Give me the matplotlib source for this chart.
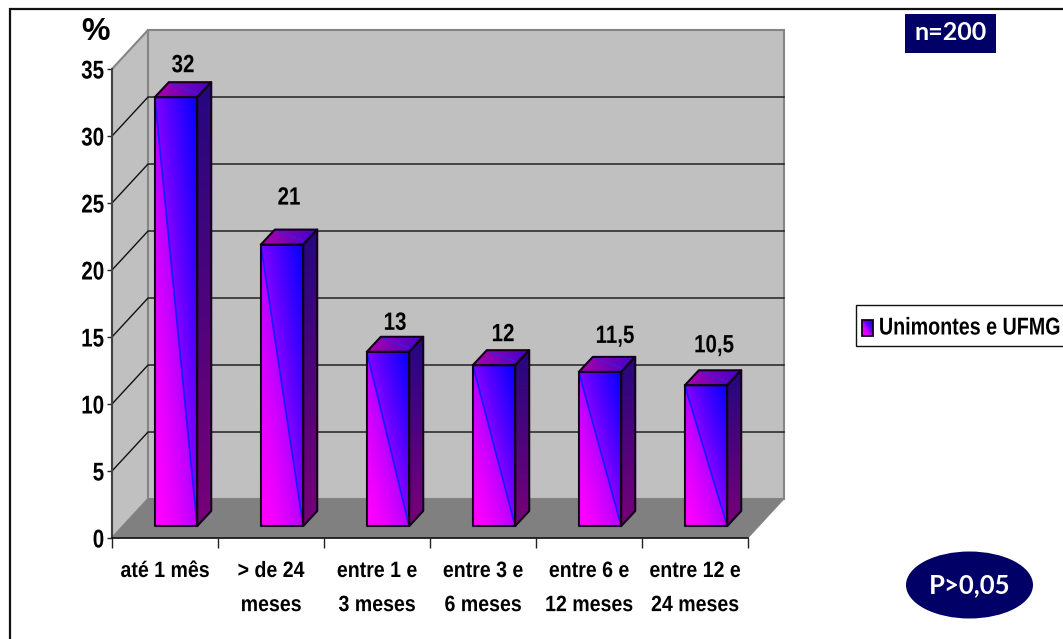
import numpy as np
import matplotlib
matplotlib.use("Agg")
import matplotlib.pyplot as plt
from matplotlib.patches import Polygon, Rectangle, Ellipse
from matplotlib.patheffects import AbstractPathEffect
from matplotlib.transforms import Affine2D

categories = ["até 1 mês", "> de 24\nmeses", "entre 1 e\n3 meses", "entre 3 e\n6 meses",
              "entre 6 e\n12 meses", "entre 12 e\n24 meses"]
values = [32, 21, 13, 12, 11.5, 10.5]
value_labels = ["32", "21", "13", "12", "11,5", "10,5"]
label_lift_px = [17, 32, 14, 16, 21, 25]
label_shift_px = [0, 0, 0, 2, 8, 1]
y_ticks = [0, 5, 10, 15, 20, 25, 30, 35]
series_name = "Unimontes e UFMG"

W, H = 1063, 639
ARIAL_LIKE = "Liberation Sans"
NAVY = "#000066"

# Oblique projection, in data units
WALL_DX, WALL_DY = 0.34, 2.91
BAR_DX, BAR_DY = 0.104, 0.895
DEPTH_DX, DEPTH_DY = 0.132, 1.12
BAR_W = 0.40


class Squeeze(AbstractPathEffect):
    """Condense text horizontally about its left, centre or right edge."""

    def __init__(self, factor, anchor="center"):
        super().__init__()
        self.factor = factor
        self.anchor = anchor

    def draw_path(self, renderer, gc, tpath, affine, rgbFace=None):
        ext = tpath.get_extents(affine)
        cx = {"left": ext.x0, "right": ext.x1}.get(self.anchor, (ext.x0 + ext.x1) / 2)
        squeeze = Affine2D().translate(-cx, 0).scale(self.factor, 1).translate(cx, 0)
        renderer.draw_path(gc, tpath, affine + squeeze, rgbFace)


fig = plt.figure(figsize=(W / 100, H / 100), dpi=100, facecolor="white")
ax = fig.add_axes([112 / W, 1 - 538 / H, 636 / W, 469 / H])
ax.set_xlim(0, 6)
ax.set_ylim(0, 35)
ax.patch.set_visible(False)


def shade(poly, rgb, zorder):
    """Fill a polygon with an RGB gradient clipped to its outline."""
    xs, ys = zip(*poly)
    im = ax.imshow(rgb, extent=(min(xs), max(xs), min(ys), max(ys)), origin="lower",
                   aspect="auto", interpolation="bilinear", zorder=zorder)
    clip = Polygon(poly, closed=True, transform=ax.transData, facecolor="none", edgecolor="none")
    ax.add_patch(clip)
    im.set_clip_path(clip)


def front_gradient(n=200):
    # Two triangles either side of the diagonal seam, as the two-part fill renders
    u, v = np.meshgrid(np.linspace(0, 1, n), np.linspace(0, 1, n))
    d = u + v
    t = np.where(d < 1, 0.30 * d ** 1.5, 0.48 + 0.52 * np.clip(d - 1, 0, 1) ** 0.9)
    return np.dstack([1 - t, np.zeros_like(t), np.ones_like(t)])


def mix(a, b, n=60, axis=0):
    s = np.linspace(0, 1, n)
    s = s[:, None] if axis == 0 else s[None, :]
    a, b = np.array(a)[None, None, :], np.array(b)[None, None, :]
    return (a * (1 - s[..., None]) + b * s[..., None])


# Walls and floor of the plot box
wall_edge = "#858585"
ax.add_patch(Polygon([(0, 0), (WALL_DX, WALL_DY), (WALL_DX, 35 + WALL_DY), (0, 35)],
                     fc="#c0c0c0", ec=wall_edge, lw=1.5, clip_on=False, zorder=1))
ax.add_patch(Polygon([(WALL_DX, WALL_DY), (6 + WALL_DX, WALL_DY), (6 + WALL_DX, 35 + WALL_DY),
                      (WALL_DX, 35 + WALL_DY)],
                     fc="#c0c0c0", ec=wall_edge, lw=1.5, clip_on=False, zorder=1))
ax.add_patch(Polygon([(0, 0), (6, 0), (6 + WALL_DX, WALL_DY), (WALL_DX, WALL_DY)],
                     fc="#808080", ec="#808080", lw=0.5, clip_on=False, zorder=2))

# Gridlines across side wall and back wall
for tick in y_ticks[1:-1]:
    ax.plot([0, WALL_DX, 6 + WALL_DX], [tick, tick + WALL_DY, tick + WALL_DY],
            color="#111111", lw=1.0, clip_on=False, zorder=2)

# Prism bars
for i, val in enumerate(values):
    x0 = i + 0.5 + BAR_DX - BAR_W / 2
    x1 = x0 + BAR_W
    y0 = BAR_DY
    y1 = BAR_DY + val
    front = [(x0, y0), (x1, y0), (x1, y1), (x0, y1)]
    side = [(x1, y0), (x1 + DEPTH_DX, y0 + DEPTH_DY), (x1 + DEPTH_DX, y1 + DEPTH_DY), (x1, y1)]
    top = [(x0, y1), (x1, y1), (x1 + DEPTH_DX, y1 + DEPTH_DY), (x0 + DEPTH_DX, y1 + DEPTH_DY)]

    shade(front, front_gradient(), 3)
    shade(side, mix((0.47, 0.0, 0.47), (0.14, 0.03, 0.50)), 3)
    shade(top, mix((0.68, 0.0, 0.66), (0.25, 0.0, 0.80), axis=1), 3)

    # Seam lines left by the gradient fill
    ax.plot([x0, x1], [y1, y0], color="#1a1aff", lw=1.3, zorder=4)
    ax.plot([x0 + DEPTH_DX, x1], [y1 + DEPTH_DY, y1 + 0.25 * DEPTH_DY],
            color="#3a20e0", lw=0.8, zorder=4)

    for face in (front, side, top):
        ax.add_patch(Polygon(face, fc="none", ec="#12001c", lw=1.5, joinstyle="round",
                             zorder=5))

    txt = ax.annotate(value_labels[i], xy=(x1 - BAR_W / 2 + DEPTH_DX / 2, y1 + DEPTH_DY),
                      xytext=(label_shift_px[i], label_lift_px[i]), textcoords="offset pixels",
                      ha="center", va="center", fontsize=18, fontweight="bold",
                      family=ARIAL_LIKE, color="black", zorder=6)
    txt.set_path_effects([Squeeze(0.82)])

# Axes furniture
for name, spine in ax.spines.items():
    spine.set_visible(name in ("left", "bottom"))
    spine.set_zorder(6)
ax.spines["left"].set_color("#404040")
ax.spines["left"].set_linewidth(1.5)
ax.spines["bottom"].set_color("#111111")
ax.spines["bottom"].set_linewidth(1.2)

ax.set_yticks(y_ticks)
ax.set_yticklabels([str(t) for t in y_ticks], family=ARIAL_LIKE, fontweight="bold", fontsize=18.5)
for lab in ax.get_yticklabels():
    lab.set_path_effects([Squeeze(0.8, "right")])
ax.tick_params(axis="y", length=3.5, width=1.0, color="#222222", pad=2)
ax.set_xticks(range(7))
ax.set_xticklabels([""] * 7)
ax.tick_params(axis="x", length=7.5, width=1.0, color="#222222")
for i, cat in enumerate(categories):
    txt = ax.annotate(cat, xy=(i + 0.5, 0), xytext=(0, -23), textcoords="offset pixels",
                      ha="center", va="top", fontsize=16, fontweight="bold", family=ARIAL_LIKE,
                      linespacing=1.82, color="black", annotation_clip=False)
    txt.set_path_effects([Squeeze(0.88)])

# Page-level decorations placed in pixel coordinates
page = fig.add_axes([0, 0, 1, 1], zorder=10)
page.set_xlim(0, W)
page.set_ylim(H, 0)
page.axis("off")
page.plot([9.5, 9.5, W], [H, 8.5, 8.5], color="#111111", lw=1.6, solid_joinstyle="miter")
page.text(96, 31.5, "%", fontsize=23, fontweight="bold", family=ARIAL_LIKE,
          ha="center", va="center", color="black")

page.add_patch(Rectangle((905, 14), 91, 39, fc=NAVY, ec="none"))
page.text(950.5, 33, "n=200", color="white", fontsize=18, fontweight="bold",
          family="Lato", ha="center", va="center")
page.add_patch(Ellipse((969.5, 585), 127, 67, fc=NAVY, ec="none"))
page.text(969.5, 585.5, "P>0,05", color="white", fontsize=18.5, fontweight="bold",
          family="Lato", ha="center", va="center")

# Legend entry, running up to the right-hand side of the page
page.add_patch(Rectangle((855.5, 304.5), W, 41.5, fc="white", ec="#111111", lw=1.0))
page.imshow(front_gradient(40), extent=(862, 873, 336, 320), origin="lower",
            aspect="auto", zorder=3)
page.set_xlim(0, W)
page.set_ylim(H, 0)
page.add_patch(Rectangle((862, 320), 11, 16, fc="none", ec="#12001c", lw=1.3, zorder=4))
legend_text = page.text(1061, 328, series_name, fontsize=17.5, fontweight="bold",
                        family=ARIAL_LIKE, ha="right", va="center", color="black")
legend_text.set_path_effects([Squeeze(0.81, "right")])

fig.savefig("out.png", dpi=100, facecolor="white")
